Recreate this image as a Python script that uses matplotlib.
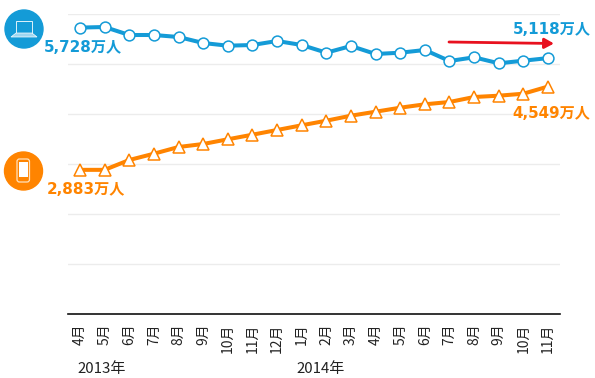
import matplotlib
matplotlib.use("Agg")
import matplotlib.pyplot as plt
from matplotlib.patches import Circle, Rectangle, FancyBboxPatch, Polygon

plt.rcParams['font.family'] = ['DejaVu Sans', 'Noto Sans CJK JP']

months = ['4月','5月','6月','7月','8月','9月','10月','11月','12月','1月','2月','3月','4月','5月','6月','7月','8月','9月','10月','11月']
pc_users = [5728,5740,5580,5580,5540,5420,5366,5380,5460,5380,5226,5360,5200,5226,5280,5060,5134,5014,5066,5118]
sp_users = [2883,2883,3080,3206,3340,3400,3494,3586,3680,3774,3866,3966,4046,4126,4194,4240,4340,4366,4406,4549]
W, H = 595, 378
BLUE = '#149bd7'
ORANGE = '#ff8400'

fig = plt.figure(figsize=(W/100, H/100), dpi=100)
ax = fig.add_axes([68/W, 1-314/H, (560-68)/W, 300/H])
ax.set_xlim(-0.487, 19.487)
ax.set_ylim(0, 6000)
ax.set_yticks(range(1000, 6001, 1000))
ax.set_yticklabels([])
ax.tick_params(axis='y', length=0)
ax.tick_params(axis='x', length=0, pad=7)
ax.yaxis.grid(True, color='#ececec', lw=1.0)
ax.set_axisbelow(True)
for s in ['top', 'left', 'right']:
    ax.spines[s].set_visible(False)
ax.spines['bottom'].set_color('#111111')
ax.spines['bottom'].set_linewidth(1.2)
xs = list(range(len(months)))
ax.set_xticks(xs)
ax.set_xticklabels(months, rotation=90, fontsize=10, color='#222222',
                   family=['Noto Sans CJK JP', 'DejaVu Sans'])
ax.plot(xs, pc_users, color=BLUE, lw=2.9, marker='o', ms=7.8, mfc='white', mec=BLUE, mew=1.1, clip_on=False, zorder=3)
ax.plot(xs, sp_users, color=ORANGE, lw=2.9, marker='^', ms=8.8, mfc='white', mec=ORANGE, mew=1.1, clip_on=False, zorder=3)

# overlay in pixel coordinates
ov = fig.add_axes([0, 0, 1, 1], facecolor='none')
ov.set_xlim(0, W); ov.set_ylim(H, 0); ov.axis('off')
lab = dict(fontsize=10.9, fontweight='bold', va='center', ha='left')
ov.text(44, 48, '5,728万人', color=BLUE, **lab)
ov.text(47, 190, '2,883万人', color=ORANGE, **lab)
ov.text(513, 29, '5,118万人', color=BLUE, **lab)
ov.text(512, 114, '4,549万人', color=ORANGE, **lab)
for x, t in [(77, '2013年'), (296, '2014年')]:
    ov.text(x, 369, t, fontsize=10.8, color='#222222', va='center', ha='left',
            family=['Noto Sans CJK JP', 'DejaVu Sans'])
ov.annotate('', xy=(554, 43.5), xytext=(449, 42),
            arrowprops=dict(arrowstyle='-|>,head_length=0.55,head_width=0.3', color='#e8111f', lw=2, shrinkA=0, shrinkB=0))

# laptop icon
ov.add_patch(Circle((24, 29), 19, color=BLUE))
ov.add_patch(Rectangle((16, 21), 16, 12, fc=BLUE, ec='#dff2fb', lw=0.7))
ov.add_patch(Polygon([(16, 33), (32, 33), (37, 37), (11, 37)], fc='#9fd6f0', ec='white', lw=0.5))
# phone icon
ov.add_patch(Circle((23.5, 171), 19, color=ORANGE))
ov.add_patch(FancyBboxPatch((17, 159), 12.5, 23, boxstyle='round,pad=0,rounding_size=2.5', fc=ORANGE, ec='#ffe2bd', lw=0.9))
ov.add_patch(Rectangle((18.5, 162), 9.5, 15, fc='white', ec='none'))

fig.savefig('out.png', dpi=100)
